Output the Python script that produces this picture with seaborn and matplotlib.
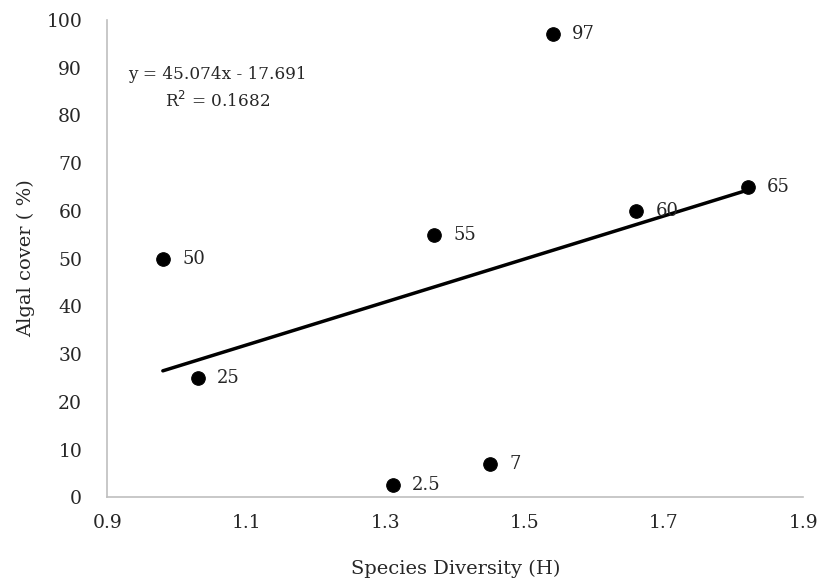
import numpy as np
import pandas as pd
import seaborn as sns
import matplotlib
matplotlib.use("Agg")
import matplotlib.pyplot as plt

# species diversity (H) vs algal cover (%)
diversity = [0.98, 1.03, 1.31, 1.37, 1.45, 1.54, 1.66, 1.82]
cover = [50, 25, 2.5, 55, 7, 97, 60, 65]
labels = ["50", "25", "2.5", "55", "7", "97", "60", "65"]
slope, intercept = 45.074, -17.691

df = pd.DataFrame({"H": diversity, "cover": cover, "label": labels})

sns.set_style("white")
plt.rcParams["font.family"] = ["DejaVu Serif"]

fig = plt.figure(figsize=(8.18, 5.85), dpi=100)
ax = fig.add_axes([0.131, 0.150, 0.851, 0.816])

sns.scatterplot(data=df, x="H", y="cover", color="black", s=95,
                edgecolor="black", ax=ax, zorder=3)

# linear trendline over the data range
xs = np.array([min(diversity), max(diversity)])
sns.lineplot(x=xs, y=slope * xs + intercept, color="black", linewidth=2.5, ax=ax, zorder=2)

for _, r in df.iterrows():
    ax.annotate(r["label"], (r["H"], r["cover"]), xytext=(14, 0),
                textcoords="offset points", va="center", ha="left", fontsize=13)

ax.text(1.058, 88.5, "y = 45.074x - 17.691", ha="center", va="center", fontsize=12.2)
ax.text(1.058, 83.0, "R$^2$ = 0.1682", ha="center", va="center", fontsize=12.2)

ax.set_xlim(0.9, 1.9)
ax.set_ylim(0, 100)
ax.set_xticks(np.arange(0.9, 1.91, 0.2))
ax.set_xticklabels(["0.9", "1.1", "1.3", "1.5", "1.7", "1.9"])
ax.set_yticks(range(0, 101, 10))
ax.tick_params(axis="y", labelsize=13.5, length=0, pad=18)
ax.tick_params(axis="x", labelsize=13.5, length=0, pad=12)
ax.set_xlabel("Species Diversity (H)", fontsize=14, labelpad=20)
ax.set_ylabel("Algal cover ( %)", fontsize=14, labelpad=8)

for side in ["top", "right"]:
    ax.spines[side].set_visible(False)
for side in ["left", "bottom"]:
    ax.spines[side].set_color("#bfbfbf")
    ax.spines[side].set_linewidth(1.2)

fig.savefig("out.png", dpi=100)
